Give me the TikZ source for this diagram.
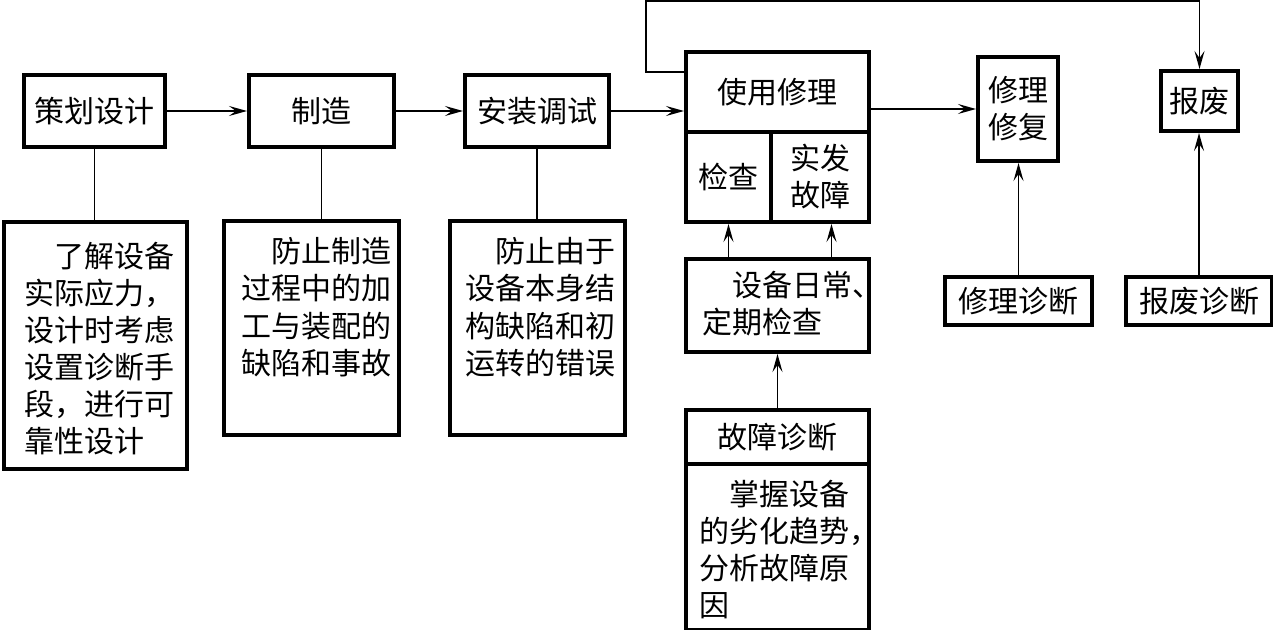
\documentclass[tikz,border=0pt]{standalone}
\usepackage{fontspec}
\setmainfont{Noto Sans CJK SC}
\usetikzlibrary{arrows.meta}

\tikzset{
  box/.style={draw,line width=2pt,inner sep=0pt,anchor=north west,align=center,
    font=\fontsize{15pt}{18.5pt}\selectfont},
  notebox/.style={draw,line width=2pt,inner sep=0pt,anchor=north west,
    font=\fontsize{15pt}{18.5pt}\selectfont},
  link/.style={line width=0.75pt},
  arr/.style={link,-{Stealth[length=9pt,width=5pt,inset=3.5pt]}}
}
% width, height, first baseline, left margin, lines
\newcommand{\notes}[5]{\parbox[c][#2][t]{#1}{\leftskip=#4\relax\rule{0pt}{#3}#5}}

\begin{document}
\begin{tikzpicture}[x=0.5pt,y=-0.5pt]
  \useasboundingbox (0,0) rectangle (1273,630);
  % main chain
  \node[box,minimum width=70.5pt,minimum height=36pt] (plan) at (22,73) {策划设计};
  \node[box,minimum width=72.5pt,minimum height=36pt] (make) at (247,73) {制造};
  \node[box,minimum width=72pt,minimum height=36pt] (install) at (463,73) {安装调试};
  \node[box,minimum width=91.5pt,minimum height=40pt] (use) at (684,50) {使用修理};
  \node[box,minimum width=42.5pt,minimum height=45pt] (check) at (684,130) {检查};
  \node[box,minimum width=49pt,minimum height=45pt] (fault) at (769,130) {实发\\故障};
  \node[box,minimum width=40pt,minimum height=52pt] (repair) at (976,55) {修理\\修复};
  \node[box,minimum width=38.5pt,minimum height=30pt] (scrap) at (1159,69) {报废};
  % diagnosis boxes
  \node[box,minimum width=73.5pt,minimum height=24pt] (repdiag) at (943,275) {修理诊断};
  \node[box,minimum width=73pt,minimum height=24pt] (scrapdiag) at (1124,275) {报废诊断};
  \node[notebox] (daily) at (684,257)
    {\notes{91.5pt}{46.5pt}{18.7pt}{8pt}{\hspace*{1em}设备日常、\\定期检查}};
  \node[box,minimum width=91.5pt,minimum height=27pt] (faultdiag) at (684,408) {故障诊断};
  \node[notebox] (trend) at (684,462)
    {\notes{91.5pt}{83pt}{20.7pt}{6.5pt}{\hspace*{1em}掌握设备\\的劣化趋势，\\分析故障原\\因}};
  % notes under the first three steps
  \node[notebox] (plannote) at (2,220)
    {\notes{91.5pt}{123.5pt}{23pt}{10pt}{\hspace*{1em}了解设备\\实际应力，\\设计时考虑\\设置诊断手\\段，进行可\\靠性设计}};
  \node[notebox] (makenote) at (222,219)
    {\notes{87.5pt}{107pt}{21pt}{8.5pt}{\hspace*{1em}防止制造\\过程中的加\\工与装配的\\缺陷和事故}};
  \node[notebox] (installnote) at (448,219)
    {\notes{87.5pt}{107pt}{21pt}{7.5pt}{\hspace*{1em}防止由于\\设备本身结\\构缺陷和初\\运转的错误}};
  \coordinate (fb) at (646,1);

  % connectors
  \draw[arr] (plan) -- (make);
  \draw[arr] (make) -- (install);
  \draw[arr] (install.east) -- (install.east -| use.west);
  \draw[arr] (repair.west -| use.east) -- (repair.west);
  \draw[arr] ([yshift=-11pt]use.north west) -| (fb) -| (scrap.north);
  \draw[arr] (daily.north -| check.south) -- (check.south);
  \draw[arr] ([xshift=27pt]daily.north) coordinate (up) -- (up |- fault.south);
  \draw[arr] (faultdiag) -- (daily);
  \draw[arr] (repdiag.north) -- (repdiag.north |- repair.south);
  \draw[arr] (scrapdiag.north) -- (scrapdiag.north |- scrap.south);
  \draw[link] (plan.south) -- (plan.south |- plannote.north);
  \draw[link] (make.south) -- (make.south |- makenote.north);
  \draw[link] (install.south) -- (install.south |- installnote.north);
\end{tikzpicture}
\end{document}
